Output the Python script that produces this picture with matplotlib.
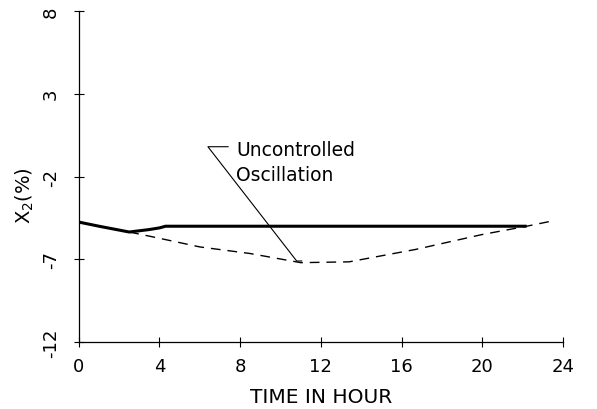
import matplotlib.pyplot as plt

# controlled response (solid)
t_ctrl = [0, 1, 2.5, 3.5, 4.0, 4.3, 8, 12, 16, 20, 22.2]
x_ctrl = [-4.75, -5.0, -5.35, -5.2, -5.1, -5.0, -5.0, -5.0, -5.0, -5.0, -5.0]

# uncontrolled oscillation (dashed)
t_unc = [2.5, 3.5, 6, 8.5, 11, 13.4, 16.7, 20, 22.2, 23.6]
x_unc = [-5.35, -5.6, -6.25, -6.65, -7.2, -7.15, -6.4, -5.5, -5.0, -4.65]

xticks = [0, 4, 8, 12, 16, 20, 24]
yticks = [-12, -7, -2, 3, 8]

fig = plt.figure(figsize=(5.97, 4.10), dpi=100)
ax = fig.add_axes([0.132, 0.163, 0.811, 0.808])

ax.plot(t_ctrl, x_ctrl, color='black', lw=2.2, solid_capstyle='butt')
ax.plot(t_unc, x_unc, color='black', lw=1.0, dashes=(7, 5))

# leader line for annotation
ax.plot([7.4, 6.4, 10.8, 11.05], [-0.2, -0.2, -7.1, -7.1], color='black', lw=0.8)
ax.text(7.8, -1.15, 'Uncontrolled\nOscillation', fontsize=13.5, va='center', ha='left',
        linespacing=1.4)

ax.set_xlim(0, 24)
ax.set_ylim(-12, 8)
ax.set_xticks(xticks)
ax.set_yticks(yticks)
ax.set_yticklabels([str(v) for v in yticks], rotation=90, va='center')
ax.tick_params(direction='inout', length=7, width=0.8, labelsize=13)
ax.tick_params(axis='x', pad=7)
ax.tick_params(axis='y', pad=10)

ax.spines['top'].set_visible(False)
ax.spines['right'].set_visible(False)
ax.spines['left'].set_linewidth(0.9)
ax.spines['bottom'].set_linewidth(0.9)

ax.set_xlabel('TIME IN HOUR', fontsize=14.5)
ax.xaxis.set_label_coords(0.5, -0.135)
ax.set_ylabel('X$_2$(%)', fontsize=14)
ax.yaxis.set_label_coords(-0.088, 0.447)

fig.savefig('out.png', dpi=100)
